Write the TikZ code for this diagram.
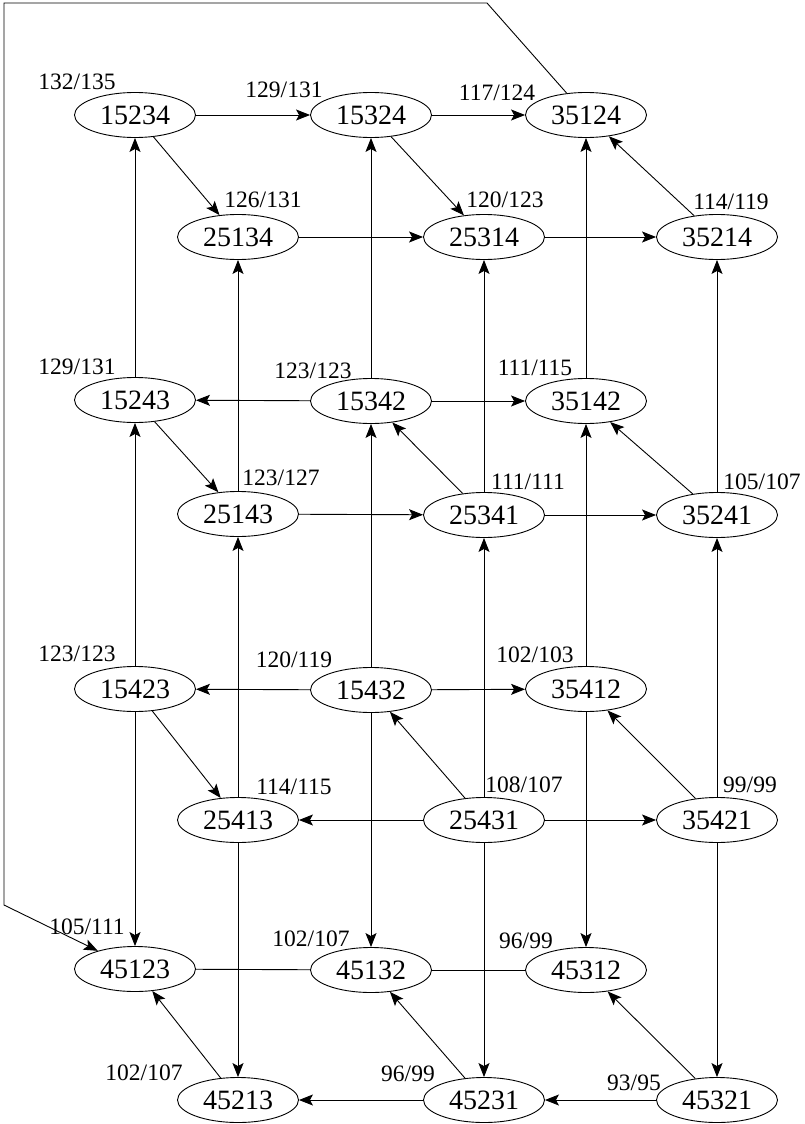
\documentclass[tikz,border=0pt]{standalone}
\usepackage{fontspec}
\setmainfont{Liberation Serif}
\usetikzlibrary{shapes.geometric, arrows.meta}

\begin{document}
\begin{tikzpicture}[x=1pt, y=-1pt,
    perm/.style={draw, ellipse, line width=0.9pt, inner sep=0pt,
                 minimum width=121pt, minimum height=45pt,
                 font=\fontsize{28pt}{30pt}\selectfont},
    tally/.style={inner sep=0pt, font=\fontsize{23.5pt}{25pt}\selectfont},
    flow/.style={line width=0.9pt, -{Stealth[length=14pt, width=11pt, inset=3pt]}},
    plain/.style={line width=0.9pt}]
    \useasboundingbox (0,0) rectangle (805,1124);

    % Permutation states, column by column
    \node[perm] (p15234) at (135, 115) {15234};
    \node[perm] (p15324) at (371, 115) {15324};
    \node[perm] (p35124) at (586, 115) {35124};
    \node[perm] (p25134) at (238, 237) {25134};
    \node[perm] (p25314) at (484, 237) {25314};
    \node[perm] (p35214) at (717, 237) {35214};
    \node[perm] (p15243) at (135, 400) {15243};
    \node[perm] (p15342) at (371, 401) {15342};
    \node[perm] (p35142) at (586, 401) {35142};
    \node[perm] (p25143) at (238, 514) {25143};
    \node[perm] (p25341) at (484, 515) {25341};
    \node[perm] (p35241) at (717, 515) {35241};
    \node[perm] (p15423) at (135, 689) {15423};
    \node[perm] (p15432) at (371, 690) {15432};
    \node[perm] (p35412) at (586, 689) {35412};
    \node[perm] (p25413) at (238, 820) {25413};
    \node[perm] (p25431) at (484, 820) {25431};
    \node[perm] (p35421) at (717, 820) {35421};
    \node[perm] (p45123) at (135, 969) {45123};
    \node[perm] (p45132) at (371, 970) {45132};
    \node[perm] (p45312) at (586, 970) {45312};
    \node[perm] (p45213) at (238, 1100) {45213};
    \node[perm] (p45231) at (484, 1100) {45231};
    \node[perm] (p45321) at (717, 1100) {45321};

    % Counts beside each state
    \node[tally] (t15234) at (77, 82) {132/135};
    \node[tally] (t15324) at (284, 90) {129/131};
    \node[tally] (t35124) at (497, 93) {117/124};
    \node[tally] (t25134) at (263, 200) {126/131};
    \node[tally] (t25314) at (505, 200) {120/123};
    \node[tally] (t35214) at (731, 202) {114/119};
    \node[tally] (t15243) at (77, 367) {129/131};
    \node[tally] (t15342) at (313, 371) {123/123};
    \node[tally] (t35142) at (535, 368) {111/115};
    \node[tally] (t25143) at (281, 478) {123/127};
    \node[tally] (t25341) at (528, 482) {111/111};
    \node[tally] (t35241) at (762, 482) {105/107};
    \node[tally] (t15423) at (77, 654) {123/123};
    \node[tally] (t15432) at (294, 660) {120/119};
    \node[tally] (t35412) at (535, 655) {102/103};
    \node[tally] (t25413) at (294, 787) {114/115};
    \node[tally] (t25431) at (524, 785) {108/107};
    \node[tally] (t35421) at (750, 785) {99/99};
    \node[tally] (t45123) at (87, 927) {105/111};
    \node[tally] (t45132) at (311, 939) {102/107};
    \node[tally] (t45312) at (526, 941) {96/99};
    \node[tally] (t45213) at (144, 1073) {102/107};
    \node[tally] (t45231) at (408, 1074) {96/99};
    \node[tally] (t45321) at (634, 1083) {93/95};

    % Top band
    \draw[flow] (p15234) -- (p15324);
    \draw[flow] (p15324) -- (p35124);
    \draw[flow] (p15234) -- (p25134);
    \draw[flow] (p15324) -- (p25314);
    \draw[flow] (p35214) -- (p35124);
    \draw[flow] (p25134) -- (p25314);
    \draw[flow] (p25314) -- (p35214);
    \draw[flow] (p15243) -- (p15234);
    \draw[flow] (p25143) -- (p25134);
    \draw[flow] (p15342) -- (p15324);
    \draw[flow] (p25341) -- (p25314);
    \draw[flow] (p35142) -- (p35124);
    \draw[flow] (p35241) -- (p35214);

    % Middle band
    \draw[flow] (p15342) -- (p15243);
    \draw[flow] (p15342) -- (p35142);
    \draw[flow] (p15243) -- (p25143);
    \draw[flow] (p25341) -- (p15342);
    \draw[flow] (p35241) -- (p35142);
    \draw[flow] (p25143) -- (p25341);
    \draw[flow] (p25341) -- (p35241);
    \draw[flow] (p15423) -- (p15243);
    \draw[flow] (p25413) -- (p25143);
    \draw[flow] (p15432) -- (p15342);
    \draw[flow] (p25431) -- (p25341);
    \draw[flow] (p35412) -- (p35142);
    \draw[flow] (p35421) -- (p35241);

    % Lower band
    \draw[flow] (p15432) -- (p15423);
    \draw[flow] (p15432) -- (p35412);
    \draw[flow] (p15423) -- (p25413);
    \draw[flow] (p25431) -- (p15432);
    \draw[flow] (p35421) -- (p35412);
    \draw[flow] (p25431) -- (p25413);
    \draw[flow] (p25431) -- (p35421);
    \draw[flow] (p15423) -- (p45123);
    \draw[flow] (p25413) -- (p45213);
    \draw[flow] (p15432) -- (p45132);
    \draw[flow] (p25431) -- (p45231);
    \draw[flow] (p35412) -- (p45312);
    \draw[flow] (p35421) -- (p45321);

    % Bottom band
    \draw[plain] (p45123) -- (p45132);
    \draw[plain] (p45132) -- (p45312);
    \draw[flow] (p45213) -- (p45123);
    \draw[flow] (p45231) -- (p45132);
    \draw[flow] (p45321) -- (p45312);
    \draw[flow] (p45231) -- (p45213);
    \draw[flow] (p45321) -- (p45231);

    % Wrap-around from the top right state to the bottom left one
    \coordinate (wrapA) at (487, 3);
    \coordinate (wrapB) at (4, 3);
    \coordinate (wrapC) at (4, 905);
    \draw[flow] (p35124) -- (wrapA) -- (wrapB) -- (wrapC) -- (p45123);
\end{tikzpicture}
\end{document}
